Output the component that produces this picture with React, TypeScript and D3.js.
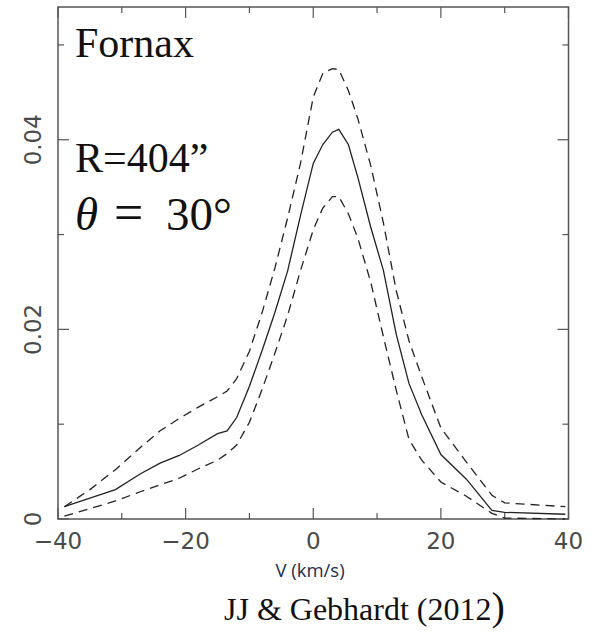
import React from "react";
import * as d3 from "d3";

const V = [-39, -35, -31, -27, -24, -21, -18, -15, -13.5, -12, -10, -8, -6, -4, -2, 0, 1.5, 3, 4, 5.5, 7, 9, 11, 13, 15, 17, 20, 24, 28, 30, 39.5];
const median = [0.0013, 0.0022, 0.0031, 0.0048, 0.0059, 0.0067, 0.0078, 0.009, 0.0093, 0.0107, 0.014, 0.0178, 0.0218, 0.0262, 0.032, 0.0375, 0.0395, 0.0408, 0.0411, 0.0395, 0.036, 0.0308, 0.0262, 0.0195, 0.0143, 0.011, 0.0068, 0.0042, 0.0009, 0.0007, 0.0005];
const upper = [0.0013, 0.0031, 0.0052, 0.0076, 0.0093, 0.0106, 0.0118, 0.0129, 0.0135, 0.0148, 0.0177, 0.0218, 0.0265, 0.0318, 0.0375, 0.0445, 0.047, 0.0475, 0.0474, 0.0452, 0.0422, 0.0373, 0.0312, 0.0241, 0.0188, 0.015, 0.0096, 0.006, 0.0025, 0.0017, 0.0013];
const lower = [0.0003, 0.0011, 0.0019, 0.0029, 0.0036, 0.0043, 0.0053, 0.0062, 0.0069, 0.0078, 0.0102, 0.0137, 0.0175, 0.0215, 0.0262, 0.0305, 0.0328, 0.034, 0.034, 0.0322, 0.0296, 0.025, 0.0192, 0.0136, 0.0084, 0.0062, 0.0039, 0.0024, 0.0006, 0.0001, 0.0];

const xTicks = [-40, -30, -20, -10, 0, 10, 20, 30, 40];
const xLabels = [-40, -20, 0, 20, 40];
const yTicks = [0, 0.01, 0.02, 0.03, 0.04, 0.05];
const yLabels = [0, 0.02, 0.04];

const W = 595, H = 632;
const L = 58, R = 568.5, T = 7, B = 519;

export default function App() {
  const x = d3.scaleLinear().domain([-40, 40]).range([L, R]);
  const y = d3.scaleLinear().domain([0, 0.054]).range([B, T]);
  const line = (ys: number[]) =>
    d3.line<number>().x((_, i) => x(V[i])).y((d) => y(d))(ys) || "";
  const fmtX = (v: number) => (v < 0 ? "\u2212" + Math.abs(v) : String(v));
  const fmtY = (v: number) => (v === 0 ? "0" : v.toFixed(2));
  const isMajorX = (v: number) => v % 20 === 0;
  const isMajorY = (v: number) => Math.round(v * 100) % 2 === 0;
  const axisColor = "#555";
  return (
    <svg width={W} height={H} style={{ position: "absolute", left: 0, top: 0, background: "#fff" }}>
      <rect x={0} y={0} width={W} height={H} fill="#fff" />
      {xTicks.map((v) => {
        const len = isMajorX(v) ? 11 : 6;
        return (
          <g key={"xt" + v} stroke={axisColor} strokeWidth={1.2}>
            <line x1={x(v)} x2={x(v)} y1={B} y2={B - len} />
            <line x1={x(v)} x2={x(v)} y1={T} y2={T + len} />
          </g>
        );
      })}
      {yTicks.map((v) => {
        const len = isMajorY(v) ? 11 : 6;
        return (
          <g key={"yt" + v} stroke={axisColor} strokeWidth={1.2}>
            <line x1={L} x2={L + len} y1={y(v)} y2={y(v)} />
            <line x1={R} x2={R - len} y1={y(v)} y2={y(v)} />
          </g>
        );
      })}
      <rect x={L} y={T} width={R - L} height={B - T} fill="none" stroke={axisColor} strokeWidth={1.5} />
      {xLabels.map((v) => (
        <text key={"xl" + v} x={x(v)} y={549} textAnchor="middle" fontFamily="DejaVu Sans" fontSize={23} fill="#4a4a4a">
          {fmtX(v)}
        </text>
      ))}
      {yLabels.map((v) => (
        <text
          key={"yl" + v}
          transform={`translate(41,${y(v)}) rotate(-90)`}
          textAnchor="middle"
          fontFamily="DejaVu Sans"
          fontSize={23}
          fill="#4a4a4a"
        >
          {fmtY(v)}
        </text>
      ))}
      <path d={line(upper)} fill="none" stroke="#222" strokeWidth={1.3} strokeDasharray="9,6" />
      <path d={line(lower)} fill="none" stroke="#222" strokeWidth={1.3} strokeDasharray="9,6" />
      <path d={line(median)} fill="none" stroke="#222" strokeWidth={1.3} />
      <text x={75} y={57} fontFamily="Liberation Serif" fontSize={42} fill="#111">Fornax</text>
      <text x={75} y={172} fontFamily="Liberation Serif" fontSize={42} fill="#111">R=404”</text>
      <text y={230} fontFamily="Liberation Serif" fontSize={47} fill="#111">
        <tspan x={75} fontStyle="italic">θ</tspan>
        <tspan x={114} fontSize={52}>=</tspan>
        <tspan x={166}>30°</tspan>
      </text>
      <text x={310} y={577} textAnchor="middle" fontFamily="Open Sans" fontSize={18.5} fill="#1f2d4d">V (km/s)</text>
      <text x={224} y={620} fontFamily="Liberation Serif" fontSize={32} fill="#111">
        JJ &amp; Gebhardt (2012<tspan fontSize={40}>)</tspan>
      </text>
    </svg>
  );
}
